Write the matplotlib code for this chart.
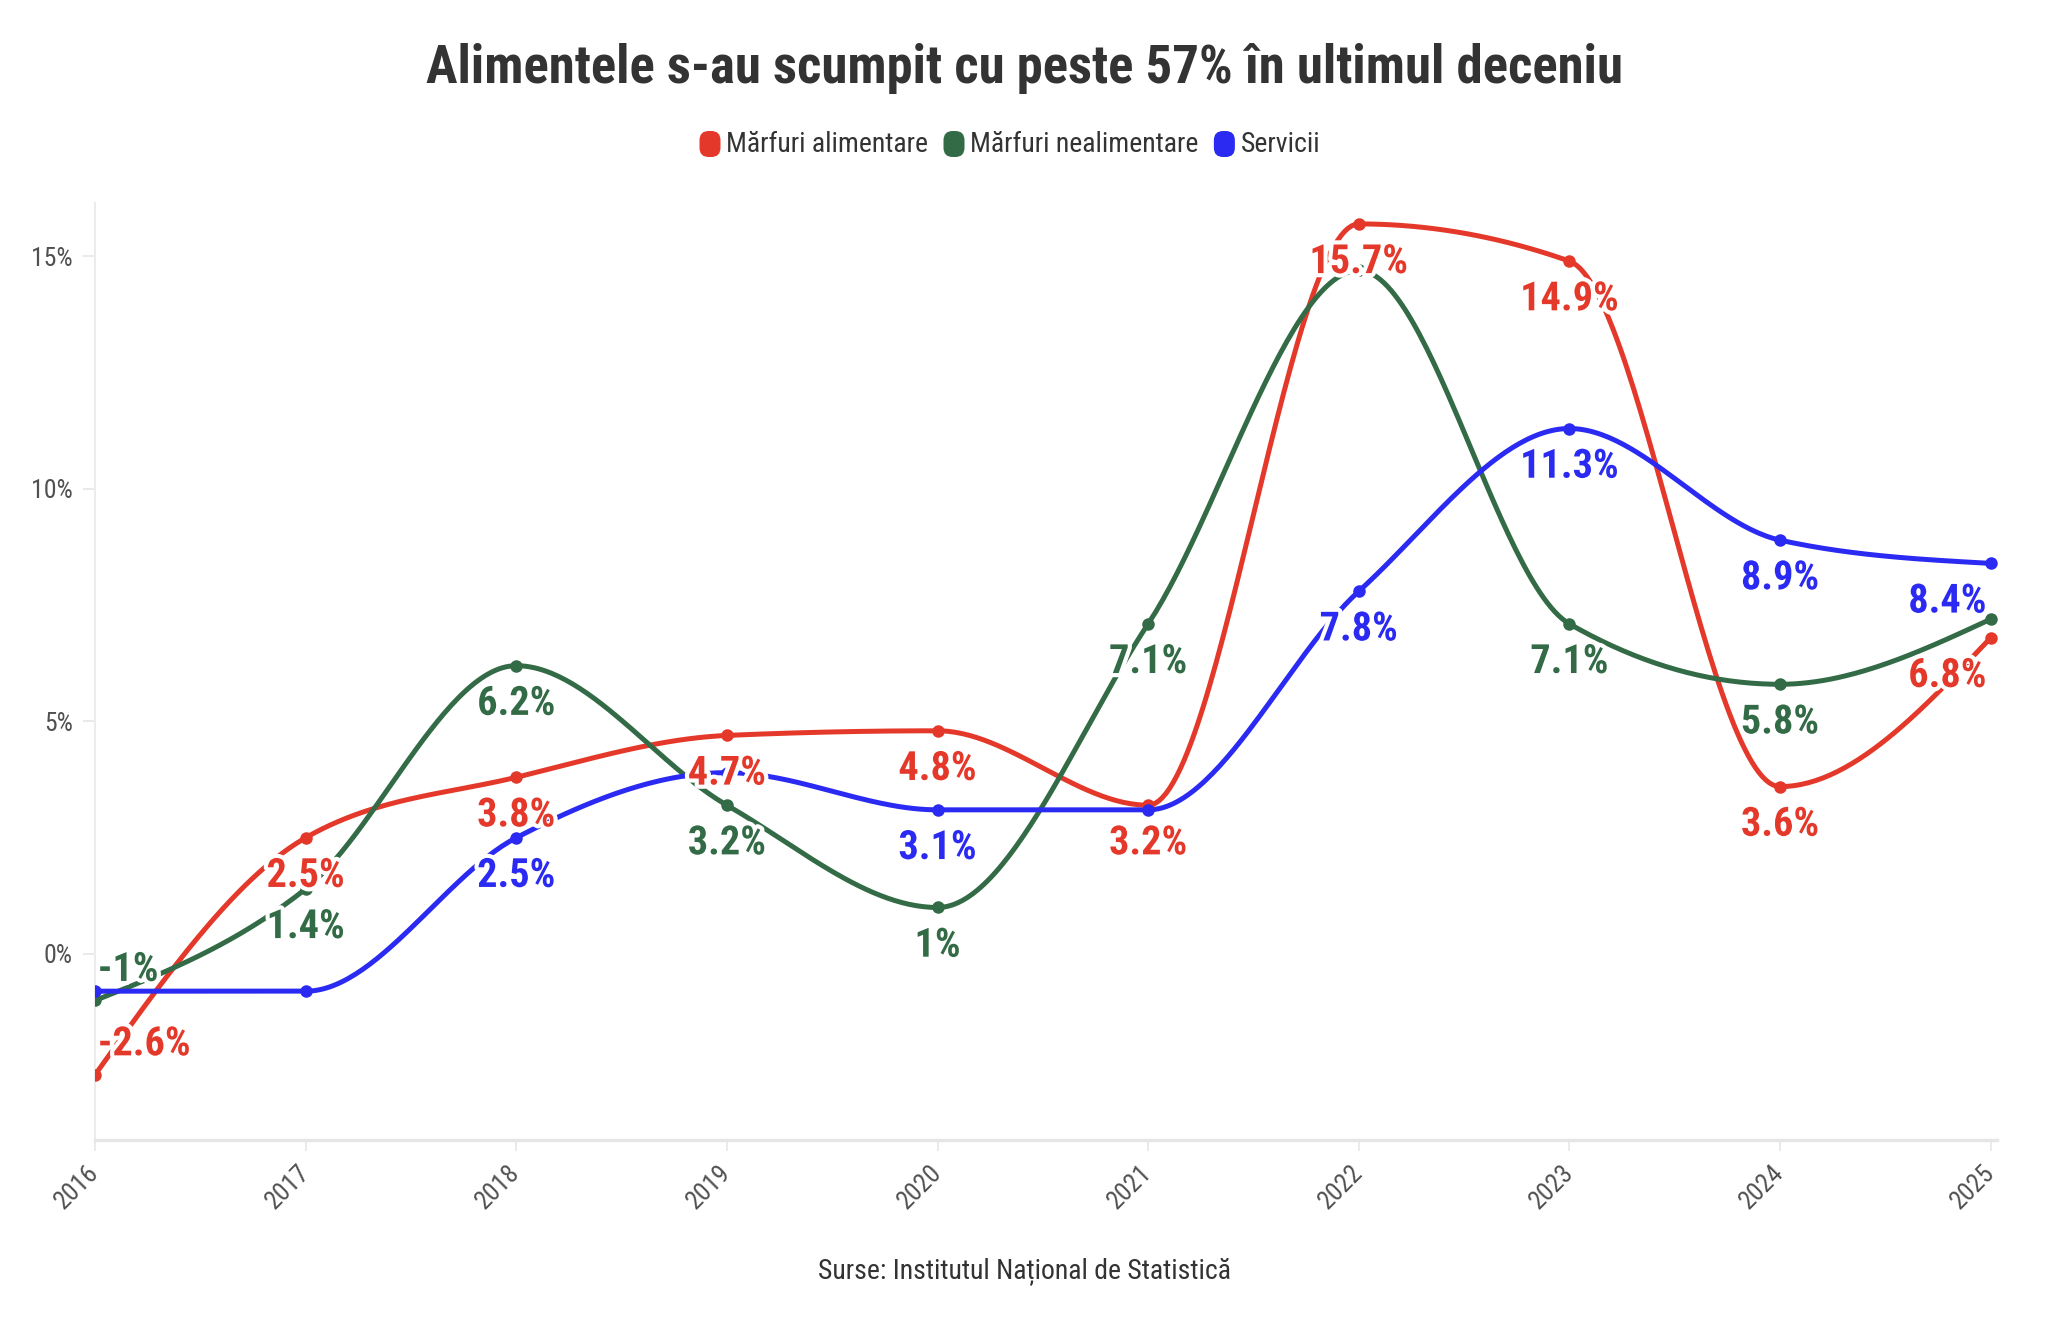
import numpy as np
import matplotlib
matplotlib.use("Agg")
import matplotlib.pyplot as plt
from matplotlib import font_manager
from matplotlib.patches import FancyBboxPatch
import matplotlib.patheffects as pe

# ---------------- data ----------------
years = [2016, 2017, 2018, 2019, 2020, 2021, 2022, 2023, 2024, 2025]
series_names = ["Mărfuri alimentare", "Mărfuri nealimentare", "Servicii"]
alimentare = [-2.6, 2.5, 3.8, 4.7, 4.8, 3.2, 15.7, 14.9, 3.6, 6.8]
nealimentare = [-1.0, 1.4, 6.2, 3.2, 1.0, 7.1, 14.7, 7.1, 5.8, 7.2]
servicii = [-0.8, -0.8, 2.5, 3.9, 3.1, 3.1, 7.8, 11.3, 8.9, 8.4]
# which value labels are visible (others hidden by overlap in the original)
show_alimentare = [True] * 10
show_nealimentare = [True, True, True, True, True, True, False, True, True, False]
show_servicii = [False, False, True, False, True, False, True, True, True, True]
y_ticks = [0, 5, 10, 15]
title = "Alimentele s-au scumpit cu peste 57% în ultimul deceniu"
source = "Surse: Institutul Național de Statistică"

colors = ["#E4392A", "#336B46", "#2A2AF2"]

# ---------------- fonts ----------------
available = {f.name for f in font_manager.fontManager.ttflist}
cands = ["Roboto Condensed", "Liberation Sans Narrow", "Roboto", "DejaVu Sans"]
FONT = next(c for c in cands if c in available)
plt.rcParams["font.family"] = [FONT, "DejaVu Sans"]


def monotone_x(x, y, n=60):
    x = np.asarray(x, float)
    y = np.asarray(y, float)
    m = len(x)
    h = np.diff(x)
    s = np.diff(y) / h
    t = np.zeros(m)
    sgn = lambda v: -1.0 if v < 0 else 1.0
    for i in range(1, m - 1):
        p = (s[i - 1] * h[i] + s[i] * h[i - 1]) / (h[i - 1] + h[i])
        t[i] = (sgn(s[i - 1]) + sgn(s[i])) * min(abs(s[i - 1]), abs(s[i]), 0.5 * abs(p))
    t[0] = (3 * s[0] - t[1]) / 2
    t[-1] = (3 * s[-1] - t[-2]) / 2
    xs, ys = [], []
    for i in range(m - 1):
        dx = h[i]
        P0 = np.array([x[i], y[i]])
        P1 = np.array([x[i] + dx / 3, y[i] + dx * t[i] / 3])
        P2 = np.array([x[i + 1] - dx / 3, y[i + 1] - dx * t[i + 1] / 3])
        P3 = np.array([x[i + 1], y[i + 1]])
        u = np.linspace(0, 1, n)[:, None]
        B = ((1 - u) ** 3) * P0 + 3 * ((1 - u) ** 2) * u * P1 + 3 * (1 - u) * u ** 2 * P2 + u ** 3 * P3
        if i > 0:
            B = B[1:]
        xs.append(B[:, 0])
        ys.append(B[:, 1])
    return np.concatenate(xs), np.concatenate(ys)


W, H = 2048, 1324
fig = plt.figure(figsize=(W / 100, H / 100), dpi=100)
fig.patch.set_facecolor("white")
ax = fig.add_axes([95 / W, 1 - 1140 / H, (1997 - 95) / W, (1140 - 203) / H])
ax.set_facecolor("white")

all_series = [alimentare, nealimentare, servicii]
all_show = [show_alimentare, show_nealimentare, show_servicii]

for vals, col in zip(all_series, colors):
    cx, cy = monotone_x(years, vals)
    ax.plot(cx, cy, color=col, lw=3.6, solid_capstyle="round", zorder=3)
    ax.plot(years, vals, "o", color=col, ms=9, zorder=4, markeredgewidth=0)

halo = [pe.withStroke(linewidth=6, foreground="white")]
for vals, col, show in zip(all_series, colors, all_show):
    for i, (xv, yv) in enumerate(zip(years, vals)):
        if not show[i]:
            continue
        txt = f"{yv:g}%"
        if i == 0:
            off, ha = (2, 22), "left"
        elif i == len(years) - 1:
            off, ha = (-3, -27.5), "right"
        else:
            off, ha = (0, -27.5), "center"
        ax.annotate(txt, (xv, yv), xytext=off, textcoords="offset points",
                    ha=ha, va="center", color=col, fontsize=29, fontweight="bold",
                    path_effects=halo, zorder=6)

ax.set_xlim(2016, 2025.03)
ax.set_ylim(-4.0, 16.15)
ax.set_xticks(years)
ax.set_xticklabels([str(y) for y in years], rotation=45, ha="right",
                   rotation_mode="anchor", va="center")
ax.set_yticks(y_ticks)
ax.set_yticklabels([f"{v}%" for v in y_ticks])
ax.tick_params(axis="x", length=8, width=1.2, color="#e6e6e6", pad=13,
               labelsize=18.5, labelcolor="#505050")
ax.tick_params(axis="y", length=9, width=1.2, color="#e6e6e6", pad=7,
               labelsize=18.5, labelcolor="#505050")
for side in ["top", "right"]:
    ax.spines[side].set_visible(False)
ax.spines["left"].set_color("#ececec")
ax.spines["left"].set_linewidth(1.5)
ax.spines["bottom"].set_color("#e6e6e6")
ax.spines["bottom"].set_linewidth(2.5)

# title
fig.text(0.5, 1 - 69 / H, title, ha="center", va="center", fontsize=38,
         fontweight="bold", color="#333333")

# legend (manual)
fig.canvas.draw()
renderer = fig.canvas.get_renderer()
leg_y = 144
mk_w, mk_h, gap_t, gap_i = 21, 26, 6, 15
widths = []
tmp = []
for name in series_names:
    t = fig.text(0, 0, name, fontsize=20, color="#333333")
    widths.append(t.get_window_extent(renderer).width)
    tmp.append(t)
for t in tmp:
    t.remove()
total = sum(mk_w + gap_t + w for w in widths) + gap_i * (len(widths) - 1)
xpos = W / 2 - total / 2 - 14
for name, col, w in zip(series_names, colors, widths):
    box = FancyBboxPatch(((xpos) / W, 1 - (leg_y + mk_h / 2) / H), mk_w / W, mk_h / H,
                         boxstyle="round,pad=0,rounding_size=0.0045",
                         transform=fig.transFigure, facecolor=col, edgecolor="none",
                         mutation_aspect=W / H)
    fig.patches.append(box)
    fig.text((xpos + mk_w + gap_t) / W, 1 - leg_y / H, name, ha="left", va="center",
             fontsize=20, color="#333333")
    xpos += mk_w + gap_t + w + gap_i

fig.text(0.5, 1 - 1271 / H, source, ha="center", va="center", fontsize=20,
         color="#333333")

fig.savefig("out.png", dpi=100, facecolor="white")
